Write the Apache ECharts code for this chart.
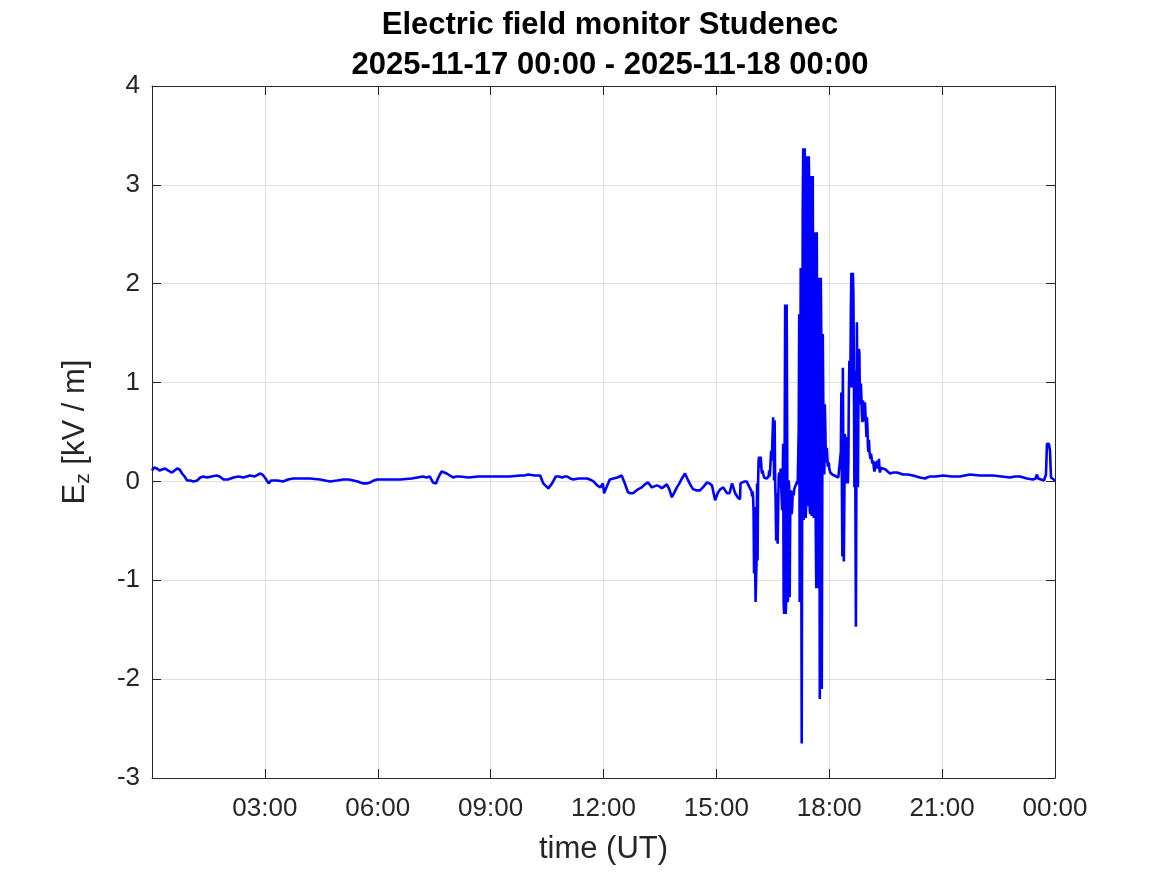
<!DOCTYPE html>
<html>
<head>
<meta charset="utf-8">
<title>Electric field monitor Studenec</title>
<script src="https://cdn.jsdelivr.net/npm/echarts@6/dist/echarts.min.js"></script>
<style>
  html, body { margin: 0; padding: 0; background: #fff; }
  #chart { width: 1167px; height: 875px; }
</style>
</head>
<body>
<div id="chart"></div>
<script>
// time is in minutes since 2025-11-17 00:00 UT, values in kV/m
var titleLines = ['Electric field monitor Studenec', '2025-11-17 00:00 - 2025-11-18 00:00'];
var xTicks = [0, 180, 360, 540, 720, 900, 1080, 1260, 1440];
var yTicks = [-3, -2, -1, 0, 1, 2, 3, 4];

// fair weather, 00:00 - 15:35
var quietMorning = [
  [0, 0.11], [3, 0.14], [5, 0.16], [8, 0.13], [12, 0.11], [16, 0.12], [21, 0.13], [26, 0.11],
  [32, 0.09], [36, 0.11], [40, 0.13], [44, 0.12], [48, 0.08], [52, 0.05], [56, 0.01], [61, 0.01],
  [66, 0.00], [72, 0.01], [77, 0.04], [82, 0.05], [88, 0.04], [95, 0.05], [103, 0.06], [108, 0.05],
  [114, 0.02], [121, 0.02], [130, 0.04], [138, 0.05], [146, 0.04], [151, 0.05], [156, 0.06],
  [164, 0.05], [172, 0.08], [176, 0.07], [180, 0.04], [186, -0.02], [190, 0.01], [193, 0.02],
  [200, 0.01], [209, 0.00], [217, 0.02], [225, 0.03], [238, 0.03], [252, 0.03], [268, 0.02],
  [284, 0.00], [295, 0.01], [305, 0.02], [314, 0.02], [321, 0.01], [328, 0.00], [336, -0.02],
  [342, -0.02], [348, -0.01], [354, 0.01], [359, 0.02], [378, 0.02], [396, 0.02], [414, 0.03],
  [432, 0.05], [438, 0.04], [443, 0.05], [448, -0.01], [453, -0.02], [456, 0.03], [459, 0.07],
  [462, 0.10], [466, 0.09], [470, 0.08], [475, 0.06], [480, 0.04], [485, 0.05], [491, 0.05],
  [505, 0.04], [520, 0.05], [539, 0.05], [555, 0.05], [570, 0.05], [587, 0.06], [594, 0.06],
  [600, 0.07], [610, 0.06], [619, 0.06], [624, -0.02], [632, -0.07], [638, -0.02], [644, 0.05],
  [649, 0.05], [654, 0.04], [658, 0.05], [662, 0.05], [667, 0.03], [672, 0.02], [680, 0.03],
  [688, 0.03], [694, 0.03], [698, 0.02], [704, 0.00], [710, -0.04], [715, -0.06], [719, -0.02],
  [721, -0.12], [726, -0.04], [730, 0.02], [736, 0.03], [742, 0.04], [749, 0.06], [754, -0.02],
  [759, -0.11], [763, -0.12], [767, -0.12], [771, -0.10], [775, -0.08], [781, -0.06], [786, -0.03],
  [791, -0.01], [797, -0.06], [801, -0.05], [805, -0.04], [809, -0.05], [813, -0.07], [817, -0.05],
  [821, -0.03], [825, -0.08], [829, -0.16], [833, -0.11], [837, -0.06], [841, -0.02], [845, 0.03],
  [850, 0.08], [855, 0.01], [859, -0.04], [863, -0.08], [868, -0.09], [874, -0.09], [880, -0.05],
  [885, -0.01], [889, -0.02], [893, -0.04], [898, -0.19], [902, -0.12], [906, -0.08], [911, -0.06],
  [914, -0.09], [917, -0.12], [921, -0.12], [925, -0.02], [928, -0.08], [930, -0.12], [934, -0.16]
];

// thunderstorm, min/max per 1.6 min bin starting 15:37.7
var stormStart = 937.7;
var stormStep = 1.6;
var stormLow = [
  -0.18, -0.03, -0.02, -0.01, -0.01, -0.01, -0.01, -0.01, -0.03, -0.05,
  -0.07, -0.10, -0.15, -0.30, -0.93, -1.22, -1.22, -0.80, -0.02, 0.14,
  0.20, 0.11, 0.08, 0.06, 0.04, 0.03, 0.03, 0.03, 0.04, 0.05,
  0.11, 0.21, 0.31, 0.45, 0.01, -0.19, -0.60, -0.63, -0.30, -0.06,
  0.01, -0.16, -0.29, -1.24, -1.34, -1.34, -1.20, -1.22, -1.17, -1.17,
  -0.38, -0.33, -0.26, -0.14, -0.08, -0.06, -0.05, -0.03, -0.05, -1.22,
  -1.22, -2.65, -2.65, -0.39, -0.37, -0.37, -0.20, -0.25, 0.10, -0.29,
  -0.33, -0.35, -0.37, -0.37, -0.13, -0.49, -1.08, -1.08, -1.08, -2.20,
  -2.20, -2.10, -0.09, 0.15, 0.07, 0.26, 0.19, 0.15, 0.15, 0.11,
  0.09, 0.07, 0.07, 0.07, 0.06, 0.06, 0.05, 0.04, 0.04, 0.04,
  0.04, 0.04, -0.76, -0.81, -0.81, -0.02, -0.02, -0.02, 0.21, 0.95,
  1.05, 0.95, 1.10, 1.10, -0.06, -1.47, -1.47, -0.06, 0.78, 0.78,
  0.78, 0.68, 0.60, 0.61, 0.61, 0.58, 0.45, 0.35, 0.30, 0.26,
  0.23, 0.21, 0.18, 0.13, 0.10, 0.13, 0.14, 0.18, 0.13, 0.09,
  0.09, 0.12, 0.12, 0.12, 0.12, 0.12
];
var stormHigh = [
  -0.02, -0.02, -0.01, 0.00, 0.00, 0.00, 0.00, 0.00, -0.02, -0.03,
  -0.05, -0.07, -0.10, -0.15, -0.26, -0.80, -0.80, -0.02, 0.21, 0.25,
  0.25, 0.20, 0.11, 0.08, 0.06, 0.04, 0.03, 0.04, 0.05, 0.11,
  0.21, 0.31, 0.48, 0.65, 0.62, 0.01, -0.16, -0.12, 0.04, 0.09,
  0.13, 0.11, -0.06, 0.38, 0.38, 1.79, 1.79, 0.46, 0.01, -0.06,
  -0.12, -0.09, -0.11, -0.09, -0.07, -0.05, -0.03, 0.00, 0.52, 1.69,
  2.16, 2.16, 2.73, 3.37, 3.37, 2.87, 2.87, 3.29, 3.29, 2.95,
  2.95, 3.09, 3.09, 1.41, 1.41, 2.52, 2.52, 2.52, 0.98, 2.06,
  2.06, 1.49, 1.49, 0.78, 0.78, 0.56, 0.34, 0.25, 0.19, 0.13,
  0.11, 0.07, 0.07, 0.07, 0.06, 0.06, 0.05, 0.04, 0.04, 0.05,
  0.30, 0.90, 1.15, 1.15, 0.48, 0.41, 0.45, 0.28, 0.89, 1.22,
  1.74, 2.11, 2.11, 1.91, 1.12, 1.12, 1.61, 1.61, 1.34, 1.29,
  0.99, 0.97, 0.82, 0.80, 0.80, 0.78, 0.65, 0.55, 0.42, 0.31,
  0.28, 0.25, 0.21, 0.18, 0.13, 0.20, 0.18, 0.21, 0.23, 0.12,
  0.14, 0.14, 0.13, 0.12, 0.12, 0.12
];

// recovery and evening, 19:37 - 24:00
var eveningTail = [
  [1176.8, 0.08], [1182.0, 0.09], [1188.0, 0.09], [1193.0, 0.08], [1197.6, 0.07], [1205.0, 0.07],
  [1213.6, 0.06], [1219.0, 0.05], [1224.7, 0.04], [1232.7, 0.03], [1236.0, 0.04], [1240.7, 0.05],
  [1250.0, 0.05], [1261.4, 0.06], [1275.0, 0.05], [1288.5, 0.05], [1296.0, 0.06], [1304.4, 0.07],
  [1320.0, 0.06], [1341.1, 0.06], [1355.0, 0.05], [1368.2, 0.04], [1376.0, 0.05], [1384.2, 0.05],
  [1395.3, 0.03], [1404.9, 0.02], [1409.0, 0.03], [1411.3, 0.07], [1413.0, 0.03], [1416.1, 0.02],
  [1422.5, 0.01], [1425.6, 0.07], [1427.2, 0.38], [1430.4, 0.38], [1432.0, 0.31], [1433.6, 0.04],
  [1435.2, 0.03], [1438.0, 0.02], [1440, 0.01]
];

function buildLine() {
  var pts = quietMorning.slice();
  for (var i = 0; i < stormLow.length; i++) {
    var t = stormStart + i * stormStep;
    if (i % 2 === 0) {
      pts.push([t, stormLow[i]]);
      pts.push([t + stormStep / 2, stormHigh[i]]);
    } else {
      pts.push([t, stormHigh[i]]);
      pts.push([t + stormStep / 2, stormLow[i]]);
    }
  }
  return pts.concat(eveningTail);
}

function hhmm(v) {
  if (v === 0) return '';
  var h = Math.round(v / 60) % 24;
  return (h < 10 ? '0' : '') + h + ':00';
}

var axisColor = '#262626';
var font = 'Liberation Sans, Arial, sans-serif';

var chart = echarts.init(document.getElementById('chart'));
chart.setOption({
  animation: false,
  backgroundColor: '#ffffff',
  title: {
    text: titleLines.join('\n'),
    left: 605,
    top: 0,
    textAlign: 'center',
    textStyle: { fontFamily: font, fontSize: 31, fontWeight: 'bold', color: '#000', lineHeight: 40 }
  },
  grid: { left: 152, right: 112, top: 86, bottom: 97 },
  xAxis: [
    {
      type: 'value', position: 'bottom',
      min: xTicks[0], max: xTicks[xTicks.length - 1], interval: 180,
      name: 'time (UT)', nameLocation: 'middle', nameGap: 56,
      nameTextStyle: { fontFamily: font, fontSize: 31, color: axisColor },
      axisLine: { show: true, onZero: false, lineStyle: { color: axisColor, width: 1 } },
      axisTick: { show: true, inside: true, length: 9, lineStyle: { color: axisColor } },
      axisLabel: { formatter: hhmm, margin: 18, fontFamily: font, fontSize: 26, color: axisColor, showMinLabel: true },
      splitLine: { show: true, lineStyle: { color: '#dedede', width: 1 } }
    },
    {
      type: 'value', position: 'top',
      min: xTicks[0], max: xTicks[xTicks.length - 1], interval: 180,
      axisLine: { show: true, onZero: false, lineStyle: { color: axisColor, width: 1 } },
      axisTick: { show: true, inside: true, length: 9, lineStyle: { color: axisColor } },
      axisLabel: { show: false },
      splitLine: { show: false }
    }
  ],
  yAxis: [
    {
      type: 'value', position: 'left',
      min: yTicks[0], max: yTicks[yTicks.length - 1], interval: 1,
      name: 'E{sub|z} [kV / m]', nameLocation: 'middle', nameGap: 58,
      nameTextStyle: {
        fontFamily: font, fontSize: 31, color: axisColor,
        rich: { sub: { fontFamily: font, fontSize: 21, color: axisColor, padding: [16, 0, 0, 0] } }
      },
      axisLine: { show: true, onZero: false, lineStyle: { color: axisColor, width: 1 } },
      axisTick: { show: true, inside: true, length: 9, lineStyle: { color: axisColor } },
      axisLabel: { margin: 12, fontFamily: font, fontSize: 26, color: axisColor },
      splitLine: { show: true, lineStyle: { color: '#dedede', width: 1 } }
    },
    {
      type: 'value', position: 'right',
      min: yTicks[0], max: yTicks[yTicks.length - 1], interval: 1,
      axisLine: { show: true, onZero: false, lineStyle: { color: axisColor, width: 1 } },
      axisTick: { show: true, inside: true, length: 9, lineStyle: { color: axisColor } },
      axisLabel: { show: false },
      splitLine: { show: false }
    }
  ],
  series: [
    {
      name: 'Ez',
      type: 'line',
      xAxisIndex: 0,
      yAxisIndex: 0,
      data: buildLine(),
      showSymbol: false,
      symbol: 'none',
      lineStyle: { color: '#0000ff', width: 2.6 },
      z: 3
    }
  ]
});
window.addEventListener('resize', chart.resize);
</script>
</body>
</html>
